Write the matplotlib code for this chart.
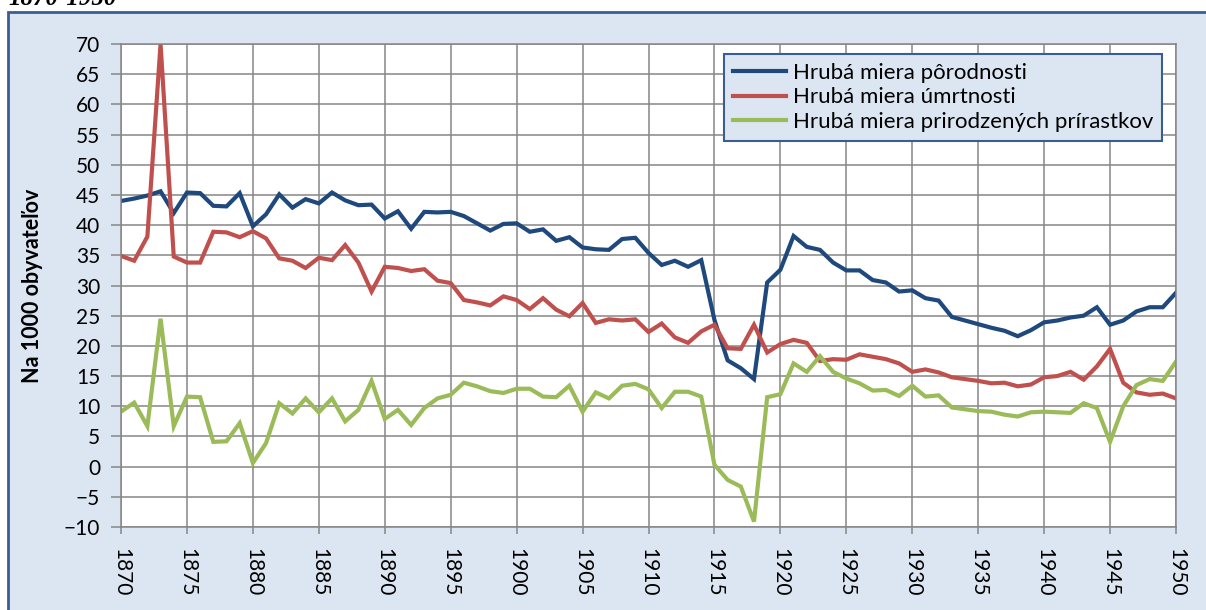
import numpy as np
import matplotlib.pyplot as plt
from matplotlib.patches import Rectangle

years = list(range(1870, 1951))

porodnost = [44.0, 44.4, 44.9, 45.6, 42.0, 45.4, 45.3, 43.2, 43.1, 45.3,
             39.8, 41.8, 45.1, 42.9, 44.3, 43.6, 45.4, 44.1, 43.3, 43.4,
             41.1, 42.3, 39.4, 42.2, 42.1, 42.2, 41.5, 40.3, 39.1, 40.2,
             40.3, 38.9, 39.3, 37.4, 38.0, 36.3, 36.0, 35.9, 37.7, 37.9,
             35.4, 33.4, 34.1, 33.1, 34.2, 24.3, 17.6, 16.3, 14.5, 30.5,
             32.6, 38.2, 36.4, 35.9, 33.8, 32.5, 32.5, 30.9, 30.5, 29.0,
             29.2, 27.9, 27.5, 24.8, 24.2, 23.6, 23.0, 22.5, 21.6, 22.6,
             23.9, 24.2, 24.7, 25.0, 26.4, 23.5, 24.2, 25.7, 26.4, 26.4,
             28.8]

umrtnost = [34.9, 34.1, 38.1, 70.0, 34.8, 33.8, 33.8, 38.9, 38.8, 38.0,
            39.0, 37.8, 34.5, 34.1, 32.9, 34.6, 34.2, 36.7, 33.8, 29.0,
            33.1, 32.9, 32.4, 32.7, 30.8, 30.4, 27.6, 27.2, 26.7, 28.2,
            27.6, 26.1, 27.9, 26.0, 24.9, 27.1, 23.8, 24.4, 24.2, 24.4,
            22.3, 23.7, 21.4, 20.5, 22.4, 23.5, 19.6, 19.5, 23.5, 18.9,
            20.3, 21.0, 20.5, 17.5, 17.8, 17.7, 18.6, 18.2, 17.8, 17.1,
            15.7, 16.1, 15.6, 14.8, 14.5, 14.2, 13.8, 13.9, 13.3, 13.6,
            14.8, 15.0, 15.7, 14.4, 16.6, 19.5, 13.9, 12.3, 11.9, 12.1,
            11.3]

prirastok = [9.1, 10.6, 6.7, 24.5, 6.7, 11.6, 11.5, 4.1, 4.2, 7.2,
             0.6, 3.9, 10.5, 8.8, 11.3, 9.0, 11.3, 7.5, 9.4, 14.2,
             7.9, 9.4, 6.9, 9.7, 11.3, 11.9, 13.9, 13.3, 12.5, 12.2,
             12.9, 12.9, 11.6, 11.5, 13.4, 9.1, 12.3, 11.3, 13.4, 13.7,
             12.8, 9.7, 12.4, 12.4, 11.6, 0.3, -2.2, -3.3, -9.1, 11.5,
             12.0, 17.1, 15.7, 18.3, 15.7, 14.6, 13.8, 12.6, 12.7, 11.7,
             13.4, 11.6, 11.8, 9.8, 9.5, 9.2, 9.1, 8.6, 8.3, 9.0,
             9.1, 9.0, 8.9, 10.5, 9.7, 4.1, 10.0, 13.5, 14.5, 14.2,
             17.4]

labels = ["Hrubá miera pôrodnosti", "Hrubá miera úmrtnosti",
          "Hrubá miera prirodzených prírastkov"]
colors = ["#1f497d", "#c0504d", "#9bbb59"]

plt.rcParams['font.family'] = ['Lato', 'DejaVu Sans']

fig = plt.figure(figsize=(12.06, 6.10), dpi=100)
fig.patch.set_facecolor("white")

# light blue chart area with dark blue frame
bg = Rectangle((8/1206, -0.02), 1.05, 1 - 12/610 + 0.02, transform=fig.transFigure,
               facecolor="#dce6f2", edgecolor="#3a5f8f", linewidth=2, zorder=-10)
fig.patches.append(bg)

fig.text(8/1206, 1 - 5/610, "1870-1950", family="Liberation Serif",
         fontweight="bold", fontstyle="italic", fontsize=18, va="baseline")

ax = fig.add_axes([121/1206, 83/610, 1055/1206, 483/610])
ax.set_facecolor("white")

for vals, lab, c in zip([porodnost, umrtnost, prirastok], labels, colors):
    ax.plot(years, vals, color=c, lw=3, label=lab, solid_joinstyle="miter")

ax.set_xlim(1870, 1950)
ax.set_ylim(-10, 70)
ax.set_xticks(range(1870, 1951, 5))
ax.set_yticks(range(-10, 71, 5))
ax.grid(True, color="#868686", lw=1.1)
ax.set_axisbelow(True)
for s in ax.spines.values():
    s.set_color("#868686")
    s.set_linewidth(1.1)
ax.tick_params(axis="y", length=7, color="#868686", width=1.1, labelsize=15, pad=8)
ax.tick_params(axis="x", length=5, color="#868686", width=1.1, labelsize=15,
               labelrotation=270, pad=10)

ax.set_ylabel("Na 1000 obyvateľov", fontsize=15.5, fontweight="bold", labelpad=15)

leg = ax.legend(loc="upper right", bbox_to_anchor=(0.9867, 0.979), borderaxespad=0,
                fontsize=16, handlelength=2.4, handletextpad=0.3, labelspacing=0.2,
                frameon=True, fancybox=False, borderpad=0.4)
leg.get_frame().set_facecolor("#dce6f2")
leg.get_frame().set_edgecolor("#3a5f8f")
leg.get_frame().set_linewidth(1.5)
leg.get_frame().set_alpha(1)

fig.savefig("out.png", dpi=100)
